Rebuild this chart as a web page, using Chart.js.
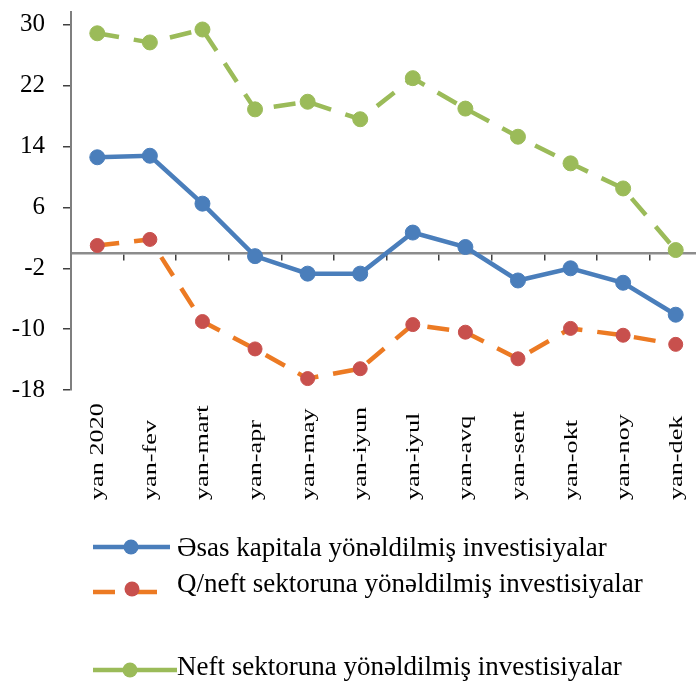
<!DOCTYPE html>
<html>
<head>
<meta charset="utf-8">
<script src="https://cdn.jsdelivr.net/npm/chart.js@4.4.1/dist/chart.umd.min.js"></script>
<style>
html,body{margin:0;padding:0;overflow:hidden;background:#fff;width:696px;height:684px}
#wrap{position:absolute;left:0;top:0;width:712px;height:684px}
</style>
</head>
<body>
<div id="wrap"><canvas id="c" width="712" height="684"></canvas></div>
<script>
const categories = ['yan 2020','yan-fev','yan-mart','yan-apr','yan-may','yan-iyun','yan-iyul','yan-avq','yan-sent','yan-okt','yan-noy','yan-dek'];
const asasKapital = [12.6, 12.8, 6.5, -0.4, -2.7, -2.7, 2.7, 0.8, -3.6, -2.0, -3.9, -8.1];
const qeyriNeft = [1.0, 1.8, -9.0, -12.6, -16.5, -15.2, -9.4, -10.4, -13.9, -9.9, -10.8, -12.0];
const neftSektor = [28.9, 27.7, 29.4, 18.9, 19.9, 17.6, 23.0, 19.0, 15.3, 11.8, 8.5, 0.4];
const seriesNames = ['Əsas kapitala yönəldilmiş investisiyalar','Q/neft sektoruna yönəldilmiş investisiyalar','Neft sektoruna yönəldilmiş investisiyalar'];
const yTickValues = [-18, -10, -2, 6, 14, 22, 30];

const SERIF = '"Liberation Serif", "Times New Roman", serif';

const xLabelPlugin = {
  id: 'xLabels',
  afterDraw(chart) {
    const ctx = chart.ctx, x = chart.scales.x;
    ctx.save();
    ctx.fillStyle = '#000';
    ctx.font = '19px ' + SERIF;
    ctx.textAlign = 'left';
    ctx.textBaseline = 'middle';
    categories.forEach((lab, i) => {
      const px = x.getPixelForValue(i);
      ctx.save();
      ctx.translate(px + 1, 500);
      ctx.rotate(-Math.PI / 2);
      ctx.scale(1.38, 1);
      ctx.fillText(lab, 0, 0);
      ctx.restore();
    });
    ctx.restore();
  }
};

const legendPlugin = {
  id: 'customLegend',
  afterDraw(chart) {
    const ctx = chart.ctx;
    const rows = [
      {lineY: 547, textY: 556, x1: 93, x2: 170, mx: 131, my: 547, dash: []},
      {lineY: 592, textY: 592, x1: 93, x2: 157, mx: 132, my: 589, dash: [22, 20]},
      {lineY: 670, textY: 675, x1: 93, x2: 177, mx: 130, my: 670, dash: []}
    ];
    chart.data.datasets.forEach((ds, i) => {
      const r = rows[i];
      ctx.save();
      ctx.strokeStyle = ds.borderColor;
      ctx.lineWidth = 4.5;
      ctx.setLineDash(r.dash);
      ctx.beginPath();
      ctx.moveTo(r.x1, r.lineY);
      ctx.lineTo(r.x2, r.lineY);
      ctx.stroke();
      ctx.setLineDash([]);
      ctx.fillStyle = ds.pointBackgroundColor;
      ctx.beginPath();
      ctx.arc(r.mx, r.my, 7.5, 0, Math.PI * 2);
      ctx.fill();
      ctx.fillStyle = '#000';
      ctx.font = '27px ' + SERIF;
      ctx.textAlign = 'left';
      ctx.textBaseline = 'alphabetic';
      ctx.fillText(ds.label, 177, r.textY);
      ctx.restore();
    });
  }
};

new Chart(document.getElementById('c'), {
  type: 'line',
  data: {
    labels: categories,
    datasets: [
      {label: seriesNames[0], data: asasKapital, borderColor: '#4A7EBB', backgroundColor: '#4A7EBB',
       pointBackgroundColor: '#4A7EBB', pointBorderColor: '#4A7EBB', borderWidth: 4.5, pointRadius: 7.5, pointBorderWidth: 1, tension: 0},
      {label: seriesNames[1], data: qeyriNeft, borderColor: '#EC7A23', backgroundColor: '#C0504D',
       pointBackgroundColor: '#C8504D', pointBorderColor: '#C8504D', borderWidth: 4.5, borderDash: [22, 15], pointRadius: 7, pointBorderWidth: 1, tension: 0},
      {label: seriesNames[2], data: neftSektor, borderColor: '#9BBB59', backgroundColor: '#9BBB59',
       pointBackgroundColor: '#9BBB59', pointBorderColor: '#9BBB59', borderWidth: 4.5, borderDash: [22, 15], pointRadius: 7.5, pointBorderWidth: 1, tension: 0}
    ]
  },
  options: {
    responsive: false,
    animation: false,
    devicePixelRatio: 1,
    layout: {padding: {left: 0, top: 12, right: 10, bottom: 294}},
    plugins: {legend: {display: false}, tooltip: {enabled: false}},
    elements: {line: {clip: false}},
    scales: {
      x: {
        type: 'category',
        position: {y: 0},
        offset: true,
        ticks: {display: false},
        grid: {offset: true, drawOnChartArea: false, drawTicks: true, tickLength: 6, color: '#404040', lineWidth: 1.5},
        border: {display: true, color: '#8C8C8C', width: 2.5}
      },
      y: {
        min: -18,
        max: 31.7,
        afterBuildTicks(scale) { scale.ticks = yTickValues.map(v => ({value: v})); },
        afterFit(scale) { scale.width = 71; scale.paddingTop = 0; scale.paddingBottom = 0; },
        ticks: {padding: 18, color: '#000', font: {family: SERIF, size: 25}},
        grid: {drawOnChartArea: false, drawTicks: true, tickLength: 8, color: '#404040', lineWidth: 1.5},
        border: {display: true, color: '#7F7F7F', width: 2}
      }
    }
  },
  plugins: [xLabelPlugin, legendPlugin]
});
</script>
</body>
</html>
